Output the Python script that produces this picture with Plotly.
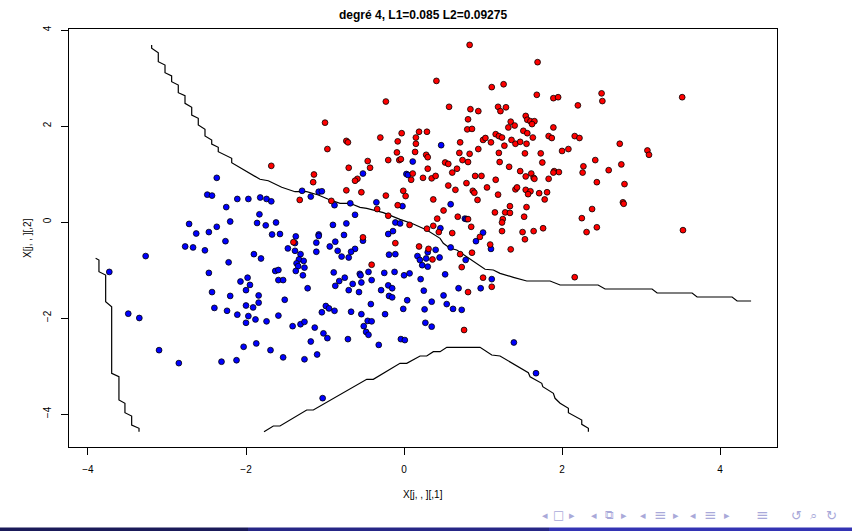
import plotly.graph_objects as go

# ---------------- data ----------------
red_x = [0.83, 1.69, 0.41, 1.11, 1.26, 1.68, 2.50, 2.51, 1.89, 1.95, -0.23, 0.57, 2.20, 0.84, 0.94, 1.19, 1.22, 1.29,
         -1.00, 0.81, 1.54, 1.56, 1.60, 1.65, 1.62, 1.35, 1.40, 1.32, 0.80, 0.86, 1.89, -0.03, 0.19, 0.29, 1.16, 1.20,
         1.24, 1.51, 1.56, 1.63, 1.83, 1.87, 2.16, 2.22, -0.30, 0.15, -0.08, -0.73, -0.71, 1.00, 1.03, 1.10, 1.36, 1.41,
         1.47, 1.55, 1.27, 0.71, 0.15, -0.97, -0.09, 0.14, 0.70, 0.83, 0.94, 1.20, 1.53, 1.73, 2.00, 2.08, 2.73, 3.08,
         3.10, 0.28, 0.30, -0.46, -0.20, -0.06, -0.04, 0.74, 0.81, 1.21, 1.75, 2.42, 2.75, -0.70, -0.43, 0.30, 0.52, 0.56,
         1.33, 0.67, 2.27, 2.59, 2.26, 1.90, 1.96, 1.89, 1.47, 1.54, 1.61, 1.64, 1.65, 1.83, -1.14, -1.15, -0.59, -0.62,
         0.24, 0.35, 0.40, 0.61, 0.90, 0.98, 1.16, 0.11, 0.09, 0.79, 0.56, 0.65, 1.05, 1.41, 1.43, 1.54, 1.60, 1.57, 1.71,
         1.81, 1.78, 2.44, 2.79, 2.77, 2.78, 2.38, -0.73, -0.54, -0.01, 0.02, 0.87, 0.89, 1.19, 0.93, 0.37, -0.23, 1.34,
         1.55, 0.50, 1.15, 1.28, 1.34, -0.08, -0.92, -1.32, -0.34, 0.68, 0.81, 1.52, 1.25, 1.24, 0.42, -0.20, 0.07, 0.29,
         0.37, 0.44, 0.61, 0.85, 1.24, 1.50, 1.64, 1.76, 1.53, 2.25, 2.31, 2.44, -0.11, -0.52, 0.19, 0.31, 1.09, 0.96,
         1.35, -1.68, -1.40, 3.52, 3.53, 2.16, -0.41, 0.36, 0.73, 0.71, 0.86, 1.00, 1.11, 0.81, 0.76]
red_y = [3.69, 3.33, 2.94, 2.81, 2.87, 2.65, 2.68, 2.52, 2.58, 2.60, 2.51, 2.40, 2.43, 2.35, 2.31, 2.40, 2.31, 2.39,
         2.07, 2.14, 2.21, 2.13, 2.10, 2.10, 2.04, 2.09, 2.01, 1.97, 1.93, 1.94, 1.97, 1.85, 1.88, 1.88, 1.83, 1.79,
         1.76, 1.90, 1.85, 1.76, 1.79, 1.75, 1.79, 1.75, 1.76, 1.76, 1.68, 1.69, 1.66, 1.71, 1.75, 1.66, 1.71, 1.63,
         1.67, 1.63, 1.59, 1.66, 1.63, 1.52, 1.45, 1.46, 1.44, 1.42, 1.52, 1.44, 1.43, 1.43, 1.48, 1.52, 1.63, 1.49,
         1.40, 1.40, 1.35, 1.27, 1.29, 1.29, 1.31, 1.29, 1.25, 1.25, 1.24, 1.29, 1.20, 1.13, 1.13, 1.11, 1.24, 1.21,
         1.15, 1.11, 1.16, 1.08, 1.03, 1.06, 1.04, 1.03, 1.06, 0.95, 1.01, 0.92, 0.90, 0.90, 0.99, 0.83, 0.90, 0.86,
         0.92, 0.91, 0.96, 1.03, 0.96, 0.96, 0.88, 1.01, 0.88, 0.81, 0.76, 0.67, 0.72, 0.68, 0.72, 0.67, 0.64, 0.58, 0.60,
         0.62, 0.47, 0.83, 0.79, 0.41, 0.38, 0.27, 0.66, 0.62, 0.65, 0.54, 0.65, 0.61, 0.57, 0.46, 0.47, 0.55, 0.33,
         0.31, 0.24, 0.20, 0.20, 0.19, 0.35, 0.44, 0.46, 0.27, 0.11, 0.06, 0.11, 0.06, -0.01, 0.07, 0.13, -0.06, -0.14,
         -0.08, -0.21, -0.23, -0.10, -0.19, -0.21, -0.19, -0.13, -0.36, 0.08, -0.21, -0.11, -0.44, -0.32, -0.51, -0.56, -0.47, -0.31,
         -0.57, 1.17, -0.42, 2.60, -0.17, -1.15, -0.89, -0.78, -0.94, -0.67, -0.64, -1.16, -1.35, -1.46, -2.25]

blue_x = [0.47, 0.11, 0.03, 0.05, -0.52, -1.29, -1.08, -1.04, -1.18, -0.68, -0.88, -0.35, -0.02, 0.59, -0.62, -0.90,
          -0.73, -0.11, -0.05, 0.77, 0.79, 0.46, 1.00, -0.20, -0.14, -1.08, -1.08, -0.76, -0.52, -0.87, -1.11, 0.91,
          0.59, -0.94, -0.62, 0.40, 1.10,
          -2.37, -2.49, -2.43, -2.11, -1.97, -1.82, -1.74, -1.68, -2.25, -1.83, -2.72, -2.63, -2.47, -2.37, -2.20,
          -1.86, -1.75, -1.62, -1.67, -1.57, -1.37, -1.38, -2.26, -2.77, -2.67, -2.52, -1.47,
          -3.27, -3.73, -1.90, -1.81, -2.22, -2.47, -1.38, -1.31, -1.33, -1.27, -1.36, -1.34, -1.26, -1.37, -1.28,
          -1.63, -1.59, -1.59, -1.53, -1.98, -2.07, -1.95, -2.00, -2.43, -2.20, -1.84, -1.84, -1.51, -2.00, -1.91,
          -2.40, -2.24, -2.11, -1.97, -2.00, -1.88, -1.74, -1.59, -1.41, -1.31, -1.26, -3.49, -3.35, -3.10, -2.85,
          -2.31, -2.12, -2.03, -1.87, -1.69, -1.53,
          -1.22, -1.11, -0.84, -0.79, -0.70, -0.67, -0.89, -0.82, -0.75, -0.87, -0.70, -0.65, -0.56, -0.55, -0.54,
          -0.45, -0.41, -0.57, -0.29, -0.25, -0.20, -0.15, -0.19, -0.15, -0.19, -0.11, -0.12, 0.00, 0.07, 0.04,
          -0.01, 0.17, 0.20, 0.23, 0.28, 0.30, 0.30, 0.21, 0.25, 0.35, 0.26, 0.27, 0.35, 0.45, 0.52, 0.50, 0.54,
          0.62, 0.73, 0.69, 0.78, 0.97, 1.11, -1.13, -1.18, -1.10, -1.26, -1.02, -0.97, -1.04, -0.99, -0.95, -0.88,
          -0.71, -0.67, -0.54, -0.42, -0.46, -0.41, -0.51, -0.48, -0.45, -0.32, -0.24, -0.04, 0.01, -1.03, 1.39, 1.67]
blue_y = [1.60, 1.26, 1.00, 0.98, 1.01, 0.65, 0.63, 0.64, 0.53, 0.39, 0.35, 0.41, 0.33, 0.37, 0.15, -0.06,
          -0.03, -0.01, -0.03, 0.07, 0.06, -0.13, -0.22, -0.25, -0.19, -0.26, -0.29, -0.27, -0.39, -0.41, -0.43, -0.40,
          -0.53, -0.51, -0.56, -0.58, -0.56,
          0.92, 0.57, 0.55, 0.48, 0.48, 0.51, 0.48, 0.43, 0.31, 0.16, -0.04, -0.24, -0.21, -0.10, 0.01,
          -0.02, -0.07, -0.01, -0.26, -0.25, -0.30, -0.44, -0.40, -0.51, -0.53, -0.59, -0.55,
          -0.71, -1.04, -0.67, -0.76, -0.84, -1.06, -0.60, -0.67, -0.78, -0.81, -0.86, -0.92, -0.95, -1.02, -1.11,
          -1.02, -1.00, -1.21, -1.21, -1.16, -1.24, -1.31, -1.42, -1.46, -1.54, -1.53, -1.68, -1.62, -1.74, -1.78,
          -1.79, -1.85, -1.93, -1.96, -2.10, -2.03, -2.07, -1.95, -2.17, -2.13, -2.08, -1.91, -2.00, -2.67, -2.94,
          -2.91, -2.88, -2.60, -2.53, -2.67, -2.82,
          -1.38, -0.62, -0.60, -0.72, -0.74, -0.62, -1.05, -1.23, -1.16, -1.33, -1.42, -1.29, -1.08, -1.11, -1.26,
          -1.04, -1.21, -1.46, -1.42, -1.06, -1.32, -1.38, -1.54, -1.57, -0.68, -0.67, -1.04, -1.11, -1.07, -1.63,
          -1.81, -0.71, -0.79, -0.90, -0.76, -0.63, -0.93, -1.19, -1.43, -1.66, -1.82, -2.10, -2.18, -0.74, -1.09, -1.53, -1.71,
          -1.81, -1.83, -1.38, -0.79, -1.38, -1.19, -2.20, -2.49, -2.76, -2.86, -2.32, -2.42, -1.88, -1.75, -1.80, -1.85,
          -2.44, -1.87, -1.92, -1.71, -2.06, -2.07, -2.17, -2.29, -2.35, -2.56, -1.92, -2.44, -2.46, -3.67, -2.51, -3.15]

# decision boundary (contour) pieces
b1_x = [-3.194, -3.194, -3.110, -3.110, -3.025, -3.025, -2.941, -2.941, -2.857, -2.857, -2.772, -2.772, -2.687,
        -2.687, -2.604, -2.604, -2.519, -2.519, -2.434, -2.434, -2.351, -2.351, -2.181, -2.181, -1.823, -1.718,
        -1.548, -1.380, -1.232, -1.085, -0.958, -0.810, -0.684, -0.557, -0.472, -0.262, -0.051, 0.117, 0.287,
        0.456, 0.497, 0.582, 0.667, 0.794, 0.920, 1.025, 1.130, 1.215, 1.384, 1.553, 1.848, 1.975, 2.456, 2.544,
        3.139, 3.203, 3.646, 3.709, 4.152, 4.215, 4.392]
b1_y = [3.688, 3.619, 3.527, 3.340, 3.271, 3.110, 3.042, 2.923, 2.854, 2.694, 2.631, 2.473, 2.390, 2.229, 2.160,
        2.021, 1.931, 1.792, 1.708, 1.625, 1.556, 1.465, 1.327, 1.235, 0.890, 0.860, 0.723, 0.631, 0.631, 0.5625,
        0.473, 0.390, 0.390, 0.306, 0.285, 0.194, 0.056, -0.042, -0.167, -0.340, -0.444, -0.548, -0.583, -0.723,
        -0.860, -0.985, -1.000, -1.069, -1.152, -1.229, -1.229, -1.3125, -1.3125, -1.396, -1.396, -1.479, -1.479,
        -1.5625, -1.5625, -1.646, -1.646]
b2_x = [-3.903, -3.861, -3.861, -3.776, -3.776, -3.700, -3.700, -3.608, -3.608, -3.532, -3.532, -3.447, -3.447,
        -3.354, -3.354]
b2_y = [-0.756, -0.792, -1.035, -1.104, -1.660, -1.765, -3.152, -3.223, -3.708, -3.777, -3.973, -4.042, -4.229,
        -4.298, -4.369]
b3_x = [-1.772, -1.654, -1.570, -1.232, -1.148, -0.472, -0.389, -0.051, 0.034, 0.203, 0.287, 0.371, 0.456, 0.541,
        0.962, 1.110, 1.215, 1.573, 1.595, 1.743, 1.756, 1.890, 1.911, 1.975, 2.080, 2.080, 2.249, 2.249, 2.333, 2.333]
b3_y = [-4.369, -4.250, -4.250, -3.917, -3.917, -3.277, -3.277, -2.944, -2.944, -2.792, -2.792, -2.702, -2.702,
        -2.610, -2.610, -2.771, -2.792, -3.140, -3.223, -3.360, -3.431, -3.569, -3.673, -3.777, -3.881, -3.973,
        -4.125, -4.215, -4.298, -4.369]

x_ticks = [-4, -2, 0, 2, 4]
y_ticks = [-4, -2, 0, 2, 4]
title_text = "degré 4, L1=0.085 L2=0.09275"
x_label = "X[j, , ][,1]"
y_label = "X[j, , ][,2]"

# ---------------- figure ----------------
W, H = 852, 531
L, R, T, B = 69, 75, 29, 84
PW, PH = W - L - R, H - T - B
FONT = "Liberation Sans, Arial, Helvetica, sans-serif"


def px(xpix):
    return (xpix - L) / PW


def py(ypix):
    return (H - B - ypix) / PH


fig = go.Figure()
for bx, by in [(b1_x, b1_y), (b2_x, b2_y), (b3_x, b3_y)]:
    fig.add_trace(go.Scatter(x=bx, y=by, mode="lines", line=dict(color="black", width=1.2),
                             hoverinfo="skip", showlegend=False))
fig.add_trace(go.Scatter(x=blue_x, y=blue_y, mode="markers", showlegend=False,
                         marker=dict(size=5.8, color="#0000FF", line=dict(color="black", width=0.8))))
fig.add_trace(go.Scatter(x=red_x, y=red_y, mode="markers", showlegend=False,
                         marker=dict(size=5.8, color="#FF0000", line=dict(color="black", width=0.8))))

axis_common = dict(showgrid=False, zeroline=False, showline=True, mirror=True, linecolor="black", linewidth=1,
                   ticks="outside", ticklen=7, tickwidth=1, tickcolor="black",
                   tickfont=dict(family=FONT, size=10, color="black"))
fig.update_xaxes(range=[-4.24, 4.72], tickvals=x_ticks, ticklabelstandoff=6, **axis_common)
fig.update_yaxes(range=[-4.6875, 4.021], tickvals=y_ticks, tickangle=-90, ticklabelstandoff=6, **axis_common)

ann = [
    dict(text="<b>" + title_text + "</b>", x=0.5, y=py(15), font=dict(family=FONT, size=12, color="black")),
    dict(text=x_label, x=0.5, y=py(494), font=dict(family=FONT, size=10, color="black")),
    dict(text=y_label, x=px(27), y=0.5, textangle=-90, font=dict(family=FONT, size=10, color="black")),
]
# beamer navigation symbols
nav_col = "#a9a9d9"
nav = [("◂", 545, 11), ("□", 558, 12), ("▸", 572, 11),
       ("◂", 594, 11), ("⧉", 609, 12), ("▸", 624, 11),
       ("◂", 643, 11), ("≡", 660, 15), ("▸", 676, 11),
       ("◂", 693, 11), ("≡", 710, 15), ("▸", 727, 11),
       ("≡", 762, 15), ("↺", 796, 13), ("⌕", 813, 13), ("↻", 831, 13)]
for s, xp, fs in nav:
    ann.append(dict(text=s, x=px(xp), y=py(515), font=dict(family="DejaVu Sans", size=fs, color=nav_col)))
for a in ann:
    a.update(xref="paper", yref="paper", showarrow=False, xanchor="center", yanchor="middle")

shapes = []
for x0, x1, col in [(0, 248, "#1a1a59"), (248, 549, "#262686"), (549, 852, "#3333b3")]:
    shapes.append(dict(type="rect", xref="paper", yref="paper", x0=px(x0), x1=px(x1), y0=py(531), y1=py(527.5),
                       fillcolor=col, line=dict(width=0), layer="above"))

fig.update_layout(width=W, height=H, margin=dict(l=L, r=R, t=T, b=B, autoexpand=False),
                  paper_bgcolor="white", plot_bgcolor="white", annotations=ann, shapes=shapes,
                  showlegend=False)
fig.write_html("out.html")
